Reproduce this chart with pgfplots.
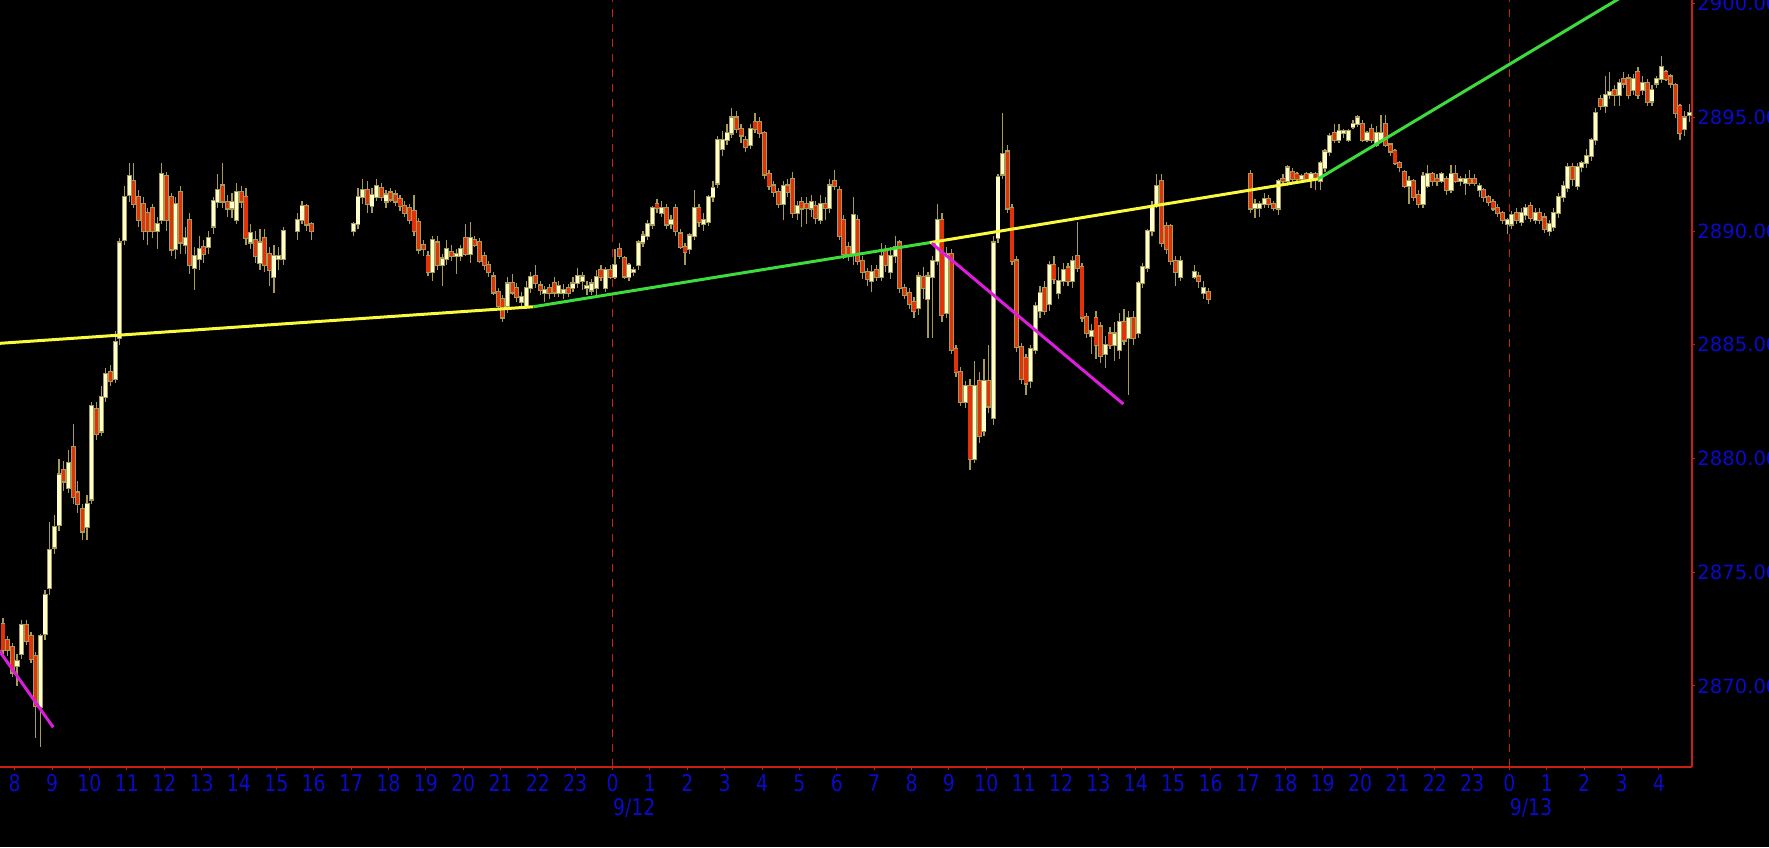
\documentclass[border=0pt]{standalone}
\usepackage{fontspec}
\setmainfont{DejaVu Sans}
\newfontfamily\narrowfont{DejaVu Sans}[FakeStretch=0.82]
\usepackage{pgfplots}
\usepackage{pgfplotstable}
\pgfplotsset{compat=1.18}

\definecolor{axisred}{RGB}{200,30,20}
\definecolor{labelblue}{RGB}{10,10,200}
\definecolor{upfill}{RGB}{255,255,205}
\definecolor{downfill}{RGB}{225,50,10}
\definecolor{wick}{RGB}{165,155,85}
\definecolor{trendyellow}{RGB}{250,250,60}
\definecolor{trendgreen}{RGB}{60,220,60}
\definecolor{trendmagenta}{RGB}{220,30,220}

% bar index i: 8 bars per hour, i=0 starts 9/12 0:00
\pgfplotstableread{
i o h l c
-131 2872.7 2873.0 2871.4 2871.6
-130 2872.0 2872.2 2871.3 2871.6
-129 2871.7 2871.9 2870.4 2870.6
-128 2870.9 2871.4 2870.0 2871.1
-127 2871.4 2872.9 2871.2 2872.7
-126 2872.7 2872.9 2871.8 2872.0
-125 2872.2 2872.4 2871.0 2871.2
-124 2871.3 2871.5 2867.7 2869.1
-123 2869.1 2872.3 2867.3 2872.2
-122 2872.3 2874.2 2872.0 2874.0
-121 2874.3 2877.2 2874.0 2876.0
-120 2876.1 2877.5 2875.8 2877.0
-119 2877.1 2880.0 2876.8 2879.3
-118 2879.5 2879.9 2878.6 2879.0
-117 2878.7 2880.4 2878.5 2879.8
-116 2880.5 2881.5 2878.0 2878.3
-115 2878.5 2879.0 2877.6 2878.0
-114 2877.8 2878.0 2876.4 2876.8
-113 2877.0 2878.4 2876.4 2878.0
-112 2878.2 2882.5 2878.0 2882.3
-111 2882.2 2882.5 2880.8 2881.1
-110 2881.2 2883.2 2881.0 2882.7
-109 2882.7 2884.0 2882.5 2883.7
-108 2883.8 2884.1 2883.2 2883.4
-107 2883.5 2885.6 2883.3 2885.1
-106 2885.3 2889.7 2885.0 2889.5
-105 2889.6 2892.0 2889.4 2891.5
-104 2891.6 2893.0 2891.3 2892.4
-103 2892.2 2893.0 2891.0 2891.2
-102 2891.5 2891.8 2890.2 2890.5
-101 2891.2 2891.5 2889.6 2890.0
-100 2890.8 2891.0 2889.4 2890.0
-99 2891.0 2891.2 2889.7 2890.0
-98 2890.0 2890.6 2889.2 2890.3
-97 2890.5 2893.0 2890.3 2892.5
-96 2892.4 2892.6 2890.0 2890.5
-95 2891.5 2891.7 2888.9 2889.2
-94 2889.2 2891.5 2888.8 2891.2
-93 2891.7 2892.0 2889.0 2889.5
-92 2889.4 2890.2 2889.0 2889.7
-91 2890.5 2890.8 2888.1 2888.5
-90 2888.4 2889.3 2887.4 2888.9
-89 2888.8 2889.8 2888.3 2889.2
-88 2889.3 2889.6 2888.6 2889.0
-87 2889.3 2890.0 2889.0 2889.7
-86 2890.2 2891.5 2889.9 2891.3
-85 2891.3 2892.5 2891.0 2891.8
-84 2892.0 2893.0 2891.0 2891.3
-83 2891.3 2891.6 2890.6 2891.0
-82 2891.0 2891.7 2890.6 2891.3
-81 2890.5 2892.1 2890.3 2891.7
-80 2891.7 2892.0 2891.0 2891.3
-79 2891.5 2891.9 2889.4 2889.7
-78 2889.5 2890.3 2889.2 2889.9
-77 2889.6 2890.0 2888.6 2888.9
-76 2888.6 2890.1 2888.3 2889.5
-75 2889.7 2890.1 2888.2 2888.5
-74 2889.0 2889.3 2887.6 2888.3
-73 2888.0 2889.4 2887.3 2888.9
-72 2888.8 2889.3 2888.3 2888.9
-71 2888.8 2890.2 2888.5 2890.0
-68 2890.0 2890.8 2889.6 2890.5
-67 2890.5 2891.3 2890.3 2891.1
-66 2891.1 2891.2 2890.0 2890.3
-65 2890.3 2890.4 2889.6 2890.0
-56 2890.0 2890.4 2889.8 2890.3
-55 2890.3 2891.9 2890.1 2891.5
-54 2891.5 2892.3 2891.2 2891.8
-53 2891.8 2892.2 2890.8 2891.2
-52 2891.1 2891.9 2890.8 2891.6
-51 2891.5 2892.3 2891.3 2892.0
-50 2891.9 2892.1 2891.3 2891.5
-49 2891.3 2891.8 2891.0 2891.6
-48 2891.7 2891.9 2891.3 2891.4
-47 2891.6 2891.8 2891.1 2891.3
-46 2891.4 2891.6 2890.9 2891.1
-45 2891.1 2891.3 2890.6 2890.8
-44 2891.0 2891.2 2890.3 2890.5
-43 2890.9 2891.6 2889.8 2890.0
-42 2890.4 2890.6 2889.0 2889.2
-41 2889.4 2889.6 2888.9 2889.2
-40 2888.9 2889.1 2888.0 2888.2
-39 2888.2 2889.8 2887.8 2889.6
-38 2889.5 2889.8 2888.3 2888.5
-37 2888.5 2889.0 2887.6 2888.8
-36 2888.8 2889.6 2888.5 2889.2
-35 2889.1 2889.4 2888.7 2888.9
-34 2888.9 2889.2 2888.1 2889.0
-33 2888.9 2889.4 2888.7 2889.2
-32 2889.7 2890.3 2888.9 2889.0
-31 2889.0 2890.4 2888.6 2889.7
-30 2889.6 2889.8 2889.3 2889.4
-29 2889.5 2889.7 2888.6 2888.7
-28 2888.9 2889.1 2888.3 2888.5
-27 2888.5 2888.7 2888.0 2888.2
-26 2888.0 2888.2 2887.2 2887.3
-25 2887.3 2887.5 2886.6 2886.7
-24 2887.0 2887.2 2886.0 2886.2
-23 2886.7 2888.0 2886.4 2887.7
-22 2887.7 2888.1 2887.2 2887.3
-21 2887.5 2887.7 2886.9 2887.1
-20 2886.9 2887.3 2886.6 2887.1
-19 2886.7 2887.8 2886.6 2887.5
-18 2887.5 2888.2 2887.3 2888.0
-17 2888.0 2888.5 2887.5 2887.7
-16 2887.6 2887.8 2887.2 2887.4
-15 2887.3 2887.6 2886.9 2887.4
-14 2887.5 2887.7 2887.0 2887.3
-13 2887.7 2888.0 2887.1 2887.3
-12 2887.3 2887.8 2887.1 2887.6
-11 2887.3 2887.7 2887.0 2887.4
-10 2887.5 2887.7 2887.1 2887.3
-9 2887.5 2888.0 2887.3 2887.7
-8 2887.7 2888.4 2887.5 2888.0
-7 2887.8 2888.2 2887.4 2888.0
-6 2887.5 2887.8 2887.2 2887.6
-5 2887.4 2887.9 2887.2 2887.7
-4 2887.5 2888.3 2887.2 2888.0
-3 2888.3 2888.5 2887.8 2888.0
-2 2887.5 2888.4 2887.3 2888.3
-1 2888.3 2888.5 2887.9 2888.0
0 2888.0 2889.2 2887.9 2888.5
1 2889.2 2889.5 2888.8 2888.9
2 2888.8 2888.9 2887.9 2888.0
3 2888.0 2888.6 2887.8 2888.5
4 2888.2 2888.4 2888.0 2888.3
5 2888.5 2889.6 2888.3 2889.5
6 2889.5 2890.0 2889.3 2889.8
7 2889.8 2890.5 2889.6 2890.3
8 2890.3 2891.1 2890.1 2891.0
9 2891.2 2891.4 2890.8 2891.0
10 2890.8 2891.3 2890.6 2891.0
11 2891.0 2891.2 2890.1 2890.3
12 2890.3 2890.7 2890.1 2890.5
13 2891.0 2891.2 2889.8 2890.0
14 2889.9 2890.1 2889.2 2889.3
15 2889.3 2889.5 2888.5 2889.1
16 2889.2 2889.9 2889.0 2889.8
17 2889.8 2891.8 2889.6 2891.0
18 2891.0 2891.2 2890.2 2890.4
19 2890.3 2890.8 2890.0 2890.5
20 2890.4 2891.6 2890.2 2891.5
21 2891.5 2892.2 2891.3 2891.9
22 2892.1 2894.2 2891.9 2894.0
23 2893.6 2894.4 2893.3 2894.0
24 2894.0 2894.7 2893.8 2894.3
25 2894.3 2895.4 2894.1 2895.0
26 2895.0 2895.3 2894.3 2894.5
27 2894.5 2894.7 2893.9 2894.2
28 2894.0 2894.2 2893.5 2893.7
29 2893.8 2894.7 2893.6 2894.5
30 2894.8 2895.2 2894.3 2894.5
31 2894.8 2895.0 2894.1 2894.3
32 2894.3 2894.4 2892.3 2892.5
33 2892.5 2892.7 2891.8 2892.0
34 2892.0 2892.2 2891.5 2891.7
35 2891.7 2891.9 2891.0 2891.2
36 2891.2 2892.2 2890.5 2892.0
37 2892.0 2892.3 2891.5 2891.7
38 2892.3 2892.6 2890.6 2890.8
39 2890.8 2891.3 2890.5 2891.1
40 2891.3 2891.5 2890.2 2891.0
41 2891.2 2891.5 2890.3 2891.0
42 2891.0 2891.6 2890.6 2891.3
43 2891.1 2891.3 2890.3 2890.6
44 2890.5 2891.6 2890.3 2891.2
45 2891.2 2891.5 2890.5 2891.0
46 2891.0 2892.3 2890.8 2892.0
47 2892.2 2892.7 2891.8 2892.0
48 2891.8 2892.0 2889.6 2889.8
49 2890.5 2890.7 2888.8 2889.0
50 2889.3 2889.5 2888.7 2889.0
51 2889.0 2891.5 2888.5 2890.7
52 2890.5 2890.7 2888.5 2888.7
53 2888.7 2888.9 2887.9 2888.2
54 2888.2 2888.4 2887.6 2887.9
55 2887.8 2888.5 2887.3 2888.2
56 2888.3 2888.5 2887.8 2888.0
57 2888.0 2889.5 2887.8 2888.9
58 2889.1 2889.4 2888.2 2888.5
59 2888.2 2889.3 2887.9 2888.9
60 2888.9 2889.8 2888.6 2889.3
61 2889.5 2889.6 2887.3 2887.5
62 2887.5 2887.7 2887.0 2887.2
63 2887.3 2887.5 2886.6 2886.8
64 2886.9 2887.1 2886.2 2886.5
65 2886.6 2888.2 2886.3 2888.0
66 2888.0 2888.4 2887.0 2887.5
67 2887.0 2888.2 2885.3 2888.0
68 2888.0 2888.9 2885.3 2888.7
69 2888.7 2891.2 2888.5 2890.5
70 2890.5 2890.8 2886.0 2886.3
71 2886.4 2889.3 2886.2 2889.0
72 2889.0 2889.2 2884.6 2884.8
73 2884.8 2885.0 2883.6 2883.8
74 2883.8 2884.0 2882.3 2882.5
75 2882.5 2883.4 2882.2 2883.2
76 2883.2 2883.5 2879.5 2880.0
77 2880.0 2884.3 2879.8 2883.2
78 2883.4 2883.8 2880.7 2881.0
79 2881.2 2884.4 2881.0 2883.4
80 2883.4 2885.0 2882.0 2882.3
81 2881.8 2889.8 2881.5 2889.5
82 2889.7 2892.5 2889.5 2892.4
83 2892.5 2895.2 2892.3 2893.4
84 2893.5 2893.8 2890.8 2891.0
85 2891.0 2891.2 2888.5 2888.7
86 2888.7 2888.9 2884.7 2884.9
87 2884.9 2885.1 2883.3 2883.5
88 2884.4 2884.6 2882.8 2883.3
89 2883.4 2885.0 2883.1 2884.8
90 2884.8 2886.9 2884.6 2886.7
91 2886.5 2887.6 2886.2 2887.3
92 2887.5 2887.8 2886.3 2886.5
93 2886.8 2888.7 2886.5 2888.5
94 2888.5 2888.9 2887.7 2887.9
95 2887.3 2888.4 2887.0 2887.8
96 2887.8 2888.6 2887.6 2888.3
97 2888.4 2888.6 2887.6 2887.8
98 2887.8 2888.9 2887.5 2888.7
99 2888.9 2890.4 2888.2 2888.4
100 2888.4 2888.6 2886.0 2886.2
101 2886.2 2886.4 2885.3 2885.5
102 2885.4 2885.9 2884.6 2885.6
103 2886.2 2886.5 2884.4 2885.0
104 2885.8 2886.0 2884.2 2884.5
105 2884.6 2885.4 2884.0 2885.0
106 2885.5 2885.8 2884.8 2885.0
107 2885.0 2886.0 2884.3 2885.5
108 2884.8 2886.4 2884.4 2886.0
109 2886.0 2886.6 2885.0 2885.2
110 2885.3 2886.5 2882.8 2886.2
111 2886.2 2886.5 2885.0 2885.3
112 2885.5 2887.8 2885.3 2887.7
113 2887.7 2888.6 2887.5 2888.4
114 2888.4 2890.1 2888.2 2890.0
115 2890.0 2891.3 2889.8 2891.1
116 2891.2 2892.5 2891.0 2892.0
117 2892.2 2892.5 2889.3 2889.5
118 2890.2 2890.4 2889.0 2889.2
119 2890.2 2890.3 2888.5 2888.7
120 2888.7 2888.9 2887.6 2888.2
121 2888.0 2888.9 2887.8 2888.7
124 2888.0 2888.5 2887.9 2888.2
125 2888.0 2888.2 2887.5 2887.8
126 2887.3 2887.8 2887.0 2887.5
127 2887.3 2887.5 2886.8 2887.0
136 2892.5 2892.7 2890.8 2891.0
137 2891.0 2891.4 2890.6 2891.2
138 2891.0 2891.3 2890.6 2891.2
139 2891.2 2891.7 2891.0 2891.4
140 2891.4 2891.6 2891.0 2891.2
141 2891.2 2891.3 2890.9 2891.0
142 2891.0 2892.3 2890.7 2892.2
143 2892.3 2892.5 2892.0 2892.2
144 2892.2 2892.9 2892.0 2892.8
145 2892.6 2892.8 2892.1 2892.3
146 2892.5 2892.6 2892.1 2892.3
147 2892.3 2892.5 2892.1 2892.4
148 2892.5 2892.6 2892.2 2892.3
149 2892.3 2892.6 2891.9 2892.5
150 2892.5 2892.6 2891.8 2892.3
151 2892.2 2893.1 2891.8 2893.0
152 2892.8 2893.6 2892.6 2893.5
153 2893.5 2894.3 2893.3 2894.2
154 2894.3 2894.7 2893.9 2894.0
155 2894.0 2894.7 2893.9 2894.4
156 2894.3 2894.5 2894.1 2894.4
157 2894.0 2894.5 2893.9 2894.4
158 2894.6 2894.9 2894.5 2894.7
159 2894.7 2895.1 2894.6 2895.0
160 2894.7 2894.9 2893.9 2894.0
161 2894.0 2894.4 2893.9 2894.3
162 2894.5 2894.7 2893.9 2894.0
163 2893.8 2894.6 2893.7 2894.3
164 2894.0 2895.1 2893.9 2894.3
165 2894.7 2895.1 2893.7 2893.8
166 2893.8 2893.9 2893.3 2893.5
167 2893.5 2893.6 2892.9 2893.0
168 2893.0 2893.1 2892.6 2892.8
169 2892.6 2892.7 2891.9 2892.0
170 2892.0 2892.4 2891.2 2892.2
171 2892.2 2892.3 2891.3 2891.5
172 2891.6 2891.8 2891.0 2891.2
173 2891.2 2892.6 2891.0 2892.4
174 2892.0 2892.9 2891.9 2892.5
175 2892.5 2892.6 2892.0 2892.2
176 2892.3 2892.5 2892.0 2892.2
177 2892.2 2892.6 2892.1 2892.5
178 2892.3 2892.4 2891.6 2891.8
179 2891.8 2892.9 2891.7 2892.5
180 2892.5 2892.9 2892.1 2892.2
181 2892.2 2892.4 2892.0 2892.3
182 2892.1 2892.5 2891.6 2892.3
183 2892.3 2892.7 2892.0 2892.1
184 2892.3 2892.5 2892.0 2892.1
185 2891.8 2892.1 2891.5 2892.0
186 2891.8 2891.9 2891.3 2891.5
187 2891.5 2891.6 2891.1 2891.3
188 2891.3 2891.4 2890.9 2891.0
189 2891.0 2891.2 2890.6 2890.8
190 2890.8 2890.9 2890.3 2890.5
191 2890.3 2890.6 2889.9 2890.5
192 2890.3 2890.9 2890.1 2890.7
193 2890.8 2891.0 2890.3 2890.5
194 2890.4 2891.0 2890.2 2890.8
195 2890.7 2891.2 2890.5 2891.0
196 2891.1 2891.3 2890.4 2890.6
197 2890.5 2891.0 2890.3 2890.8
198 2890.8 2891.0 2890.3 2890.5
199 2890.6 2890.8 2889.9 2890.1
200 2890.0 2890.5 2889.8 2890.3
201 2890.2 2891.0 2890.0 2890.8
202 2890.8 2891.7 2890.6 2891.5
203 2891.5 2892.2 2891.3 2892.0
204 2891.9 2893.0 2891.7 2892.8
205 2892.8 2893.0 2892.0 2892.3
206 2892.0 2893.0 2891.8 2892.8
207 2892.8 2893.1 2892.6 2893.0
208 2893.0 2893.6 2892.8 2893.3
209 2893.3 2894.1 2893.1 2894.0
210 2894.0 2895.4 2893.8 2895.2
211 2895.8 2896.0 2895.3 2895.5
212 2895.5 2896.8 2895.2 2896.0
213 2896.0 2897.0 2895.8 2896.1
214 2896.2 2896.4 2895.5 2896.0
215 2896.0 2896.7 2895.5 2896.5
216 2896.7 2897.0 2896.3 2896.5
217 2896.7 2896.9 2895.8 2896.0
218 2896.2 2896.9 2896.0 2896.7
219 2897.0 2897.2 2895.8 2896.0
220 2896.2 2896.8 2896.0 2896.5
221 2896.5 2896.7 2895.5 2895.7
222 2895.7 2896.4 2895.5 2896.2
223 2896.5 2896.8 2896.3 2896.7
224 2896.7 2897.7 2896.5 2897.2
225 2897.0 2897.1 2896.6 2896.7
226 2896.8 2896.9 2896.3 2896.5
227 2896.4 2896.5 2895.0 2895.2
228 2895.5 2895.6 2894.0 2894.3
229 2894.5 2895.3 2894.2 2895.0
230 2895.1 2895.6 2894.8 2895.2
}\bars

\begin{document}
\begin{tikzpicture}
\fill[black] (0,-40pt) rectangle (884.5pt,383.5pt);
\begin{axis}[
  at={(0,0)}, anchor=south west,
  scale only axis, width=846pt, height=383.5pt,
  xmin=-16.393, xmax=28.884,
  ymin=2866.434, ymax=2900.157,
  axis x line*=bottom, axis y line*=right,
  axis line style={draw=axisred, line width=0.6pt},
  tick align=outside, major tick length=1.5pt,
  tick style={draw=axisred, line width=0.5pt},
  xtick={-16,...,28},
  xticklabels={8,9,10,11,12,13,14,15,16,17,18,19,20,21,22,23,
    0,1,2,3,4,5,6,7,8,9,10,11,12,13,14,15,16,17,18,19,20,21,22,23,
    0,1,2,3,4},
  ytick={2870,2875,2880,2885,2890,2895,2900},
  xticklabel style={font=\narrowfont\fontsize{11.5}{12}\selectfont, text=labelblue, inner sep=0pt, anchor=north},
  xticklabel shift=2pt,
  yticklabel style={font=\fontsize{9.8}{11}\selectfont, text=labelblue, inner sep=0pt, anchor=west,
    /pgf/number format/.cd, fixed, fixed zerofill, precision=2, 1000 sep={}, assume math mode=true},
  yticklabel shift=1pt,
  extra x ticks={0,24}, extra x tick labels={},
  extra x tick style={grid=major,
    major grid style={draw=axisred, line width=0.6pt, dash pattern=on 4pt off 3.5pt}},
  candle/.style={only marks, mark size=0pt, mark options={draw=none, fill=none}, forget plot},
]
% wicks
\addplot[candle,
  error bars/.cd, y dir=both, y explicit, error mark=none,
  error bar style={draw=wick, line width=0.6pt}]
  table[x expr=(\thisrow{i}+0.5)/8, y expr=(\thisrow{h}+\thisrow{l})/2,
        y error expr=(\thisrow{h}-\thisrow{l})/2] {\bars};
% body outlines
\addplot[candle,
  error bars/.cd, y dir=both, y explicit, error mark=none,
  error bar style={draw=wick, line width=2.45pt}]
  table[x expr=(\thisrow{i}+0.5)/8, y expr=(\thisrow{o}+\thisrow{c})/2,
        y error expr=abs(\thisrow{c}-\thisrow{o})/2+0.05] {\bars};
% rising bodies
\addplot[candle,
  restrict expr to domain={\thisrow{c}-\thisrow{o}}{-0.05:1000},
  error bars/.cd, y dir=both, y explicit, error mark=none,
  error bar style={draw=upfill, line width=1.6pt}]
  table[x expr=(\thisrow{i}+0.5)/8, y expr=(\thisrow{o}+\thisrow{c})/2,
        y error expr=abs(\thisrow{c}-\thisrow{o})/2] {\bars};
% falling bodies
\addplot[candle,
  restrict expr to domain={\thisrow{c}-\thisrow{o}}{-1000:-0.05},
  error bars/.cd, y dir=both, y explicit, error mark=none,
  error bar style={draw=downfill, line width=1.6pt}]
  table[x expr=(\thisrow{i}+0.5)/8, y expr=(\thisrow{o}+\thisrow{c})/2,
        y error expr=abs(\thisrow{c}-\thisrow{o})/2] {\bars};
% trend lines
\addplot[trendyellow, line width=1.5pt] coordinates {(-16.5,2885.05) (-2.12,2886.67)};
\addplot[trendgreen, line width=1.5pt] coordinates {(-2.12,2886.67) (8.49,2889.49)};
\addplot[trendyellow, line width=1.5pt] coordinates {(8.49,2889.49) (18.88,2892.29)};
\addplot[trendgreen, line width=1.5pt] coordinates {(18.88,2892.29) (27.3,2900.58)};
\addplot[trendmagenta, line width=1.5pt] coordinates {(8.54,2889.46) (13.67,2882.39)};
\addplot[trendmagenta, line width=1.5pt] coordinates {(-16.5,2871.75) (-14.97,2868.18)};
\coordinate (d12) at (axis cs:0,2866.434);
\coordinate (d13) at (axis cs:24,2866.434);
\end{axis}
\node[anchor=west, inner sep=0pt, text=labelblue, font=\narrowfont\fontsize{11.5}{12}\selectfont]
  at ([yshift=-20.5pt]d12) {9/12};
\node[anchor=west, inner sep=0pt, text=labelblue, font=\narrowfont\fontsize{11.5}{12}\selectfont]
  at ([yshift=-20.5pt]d13) {9/13};
\pgfresetboundingbox
\path[use as bounding box] (0,-40pt) rectangle (884.5pt,383.5pt);
\end{tikzpicture}
\end{document}
